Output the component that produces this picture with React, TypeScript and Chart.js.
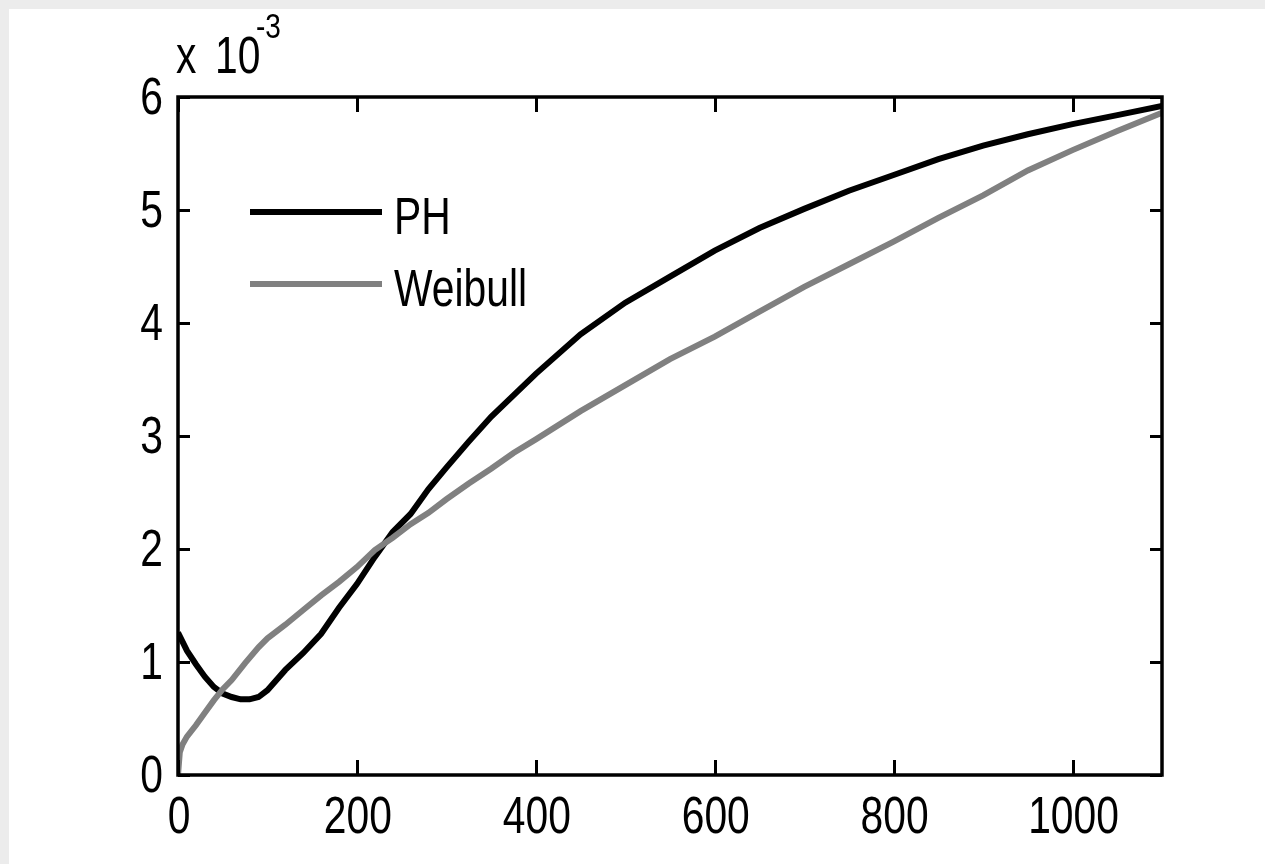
import React, { useEffect, useRef } from "react";
import { Chart, registerables } from "chart.js";

Chart.register(...registerables);

// x positions (hours) and values (in units of 1e-3)
const phX = [0, 5, 10, 20, 30, 40, 50, 60, 70, 80, 90, 100, 120, 140, 160, 180, 200, 220, 240, 260, 280, 300, 325, 350, 375, 400, 450, 500, 550, 600, 650, 700, 750, 800, 850, 900, 950, 1000, 1050, 1100];
const phY = [1.26, 1.18, 1.1, 0.98, 0.87, 0.78, 0.72, 0.69, 0.67, 0.67, 0.69, 0.75, 0.93, 1.08, 1.25, 1.48, 1.69, 1.93, 2.15, 2.31, 2.53, 2.72, 2.95, 3.17, 3.36, 3.55, 3.9, 4.18, 4.41, 4.64, 4.84, 5.01, 5.17, 5.31, 5.45, 5.57, 5.67, 5.76, 5.84, 5.92];

const wbX = [0, 2, 5, 10, 20, 30, 40, 50, 60, 75, 90, 100, 120, 140, 160, 180, 200, 220, 240, 260, 280, 300, 325, 350, 375, 400, 450, 500, 550, 600, 650, 700, 750, 800, 850, 900, 950, 1000, 1050, 1100];
const wbY = [0.0, 0.2, 0.27, 0.34, 0.44, 0.55, 0.66, 0.76, 0.84, 0.99, 1.13, 1.21, 1.33, 1.46, 1.59, 1.71, 1.84, 1.99, 2.1, 2.22, 2.32, 2.44, 2.58, 2.71, 2.85, 2.97, 3.22, 3.45, 3.68, 3.88, 4.1, 4.32, 4.52, 4.72, 4.93, 5.13, 5.35, 5.53, 5.7, 5.86];

const seriesNames = ["PH", "Weibull"];
const seriesColors = ["#000000", "#808080"];

const xTickValues = [0, 200, 400, 600, 800, 1000];
const yTickValues = [0, 1, 2, 3, 4, 5, 6];
const exponentPower = "-3";

const FONT = '"Liberation Sans", Arial, Helvetica, sans-serif';
const SQUEEZE = 0.8;

function squeezedText(ctx: CanvasRenderingContext2D, text: string, x: number, y: number, size: number, align: CanvasTextAlign) {
  ctx.save();
  ctx.translate(x, y);
  ctx.scale(SQUEEZE, 1);
  ctx.font = `${size}px ${FONT}`;
  ctx.textAlign = align;
  ctx.textBaseline = "alphabetic";
  ctx.fillStyle = "#000";
  ctx.fillText(text, 0, 0);
  ctx.restore();
}

const matlabAxes = {
  id: "matlabAxes",
  afterDatasetsDraw(chart: any) {
    const ctx: CanvasRenderingContext2D = chart.ctx;
    const { left, right, top, bottom } = chart.chartArea;
    const xs = chart.scales.x;
    const ys = chart.scales.y;
    ctx.save();
    ctx.strokeStyle = "#000";
    ctx.lineWidth = 3.5;
    ctx.lineCap = "butt";
    ctx.strokeRect(left, top, right - left, bottom - top);
    ctx.lineWidth = 3;
    ctx.beginPath();
    for (const v of xTickValues) {
      const px = Math.round(xs.getPixelForValue(v)) + 0.5;
      ctx.moveTo(px, bottom);
      ctx.lineTo(px, bottom - 15);
      ctx.moveTo(px, top);
      ctx.lineTo(px, top + 15);
    }
    for (const v of yTickValues) {
      const py = Math.round(ys.getPixelForValue(v)) + 0.5;
      ctx.moveTo(left, py);
      ctx.lineTo(left + 12, py);
      ctx.moveTo(right, py);
      ctx.lineTo(right - 12, py);
    }
    ctx.stroke();
    ctx.restore();

    for (const v of xTickValues) {
      squeezedText(ctx, String(v), xs.getPixelForValue(v) + 1, bottom + 58, 51, "center");
    }
    for (const v of yTickValues) {
      squeezedText(ctx, String(v), left - 15, ys.getPixelForValue(v) + 17, 51, "right");
    }
    squeezedText(ctx, "x", left - 2, top - 24, 51, "left");
    squeezedText(ctx, "10", left + 37, top - 24, 51, "left");
    squeezedText(ctx, exponentPower, left + 78, top - 59, 35, "left");

    const rows = [212, 284];
    seriesNames.forEach((name, i) => {
      ctx.save();
      ctx.strokeStyle = seriesColors[i];
      ctx.lineWidth = 6;
      ctx.beginPath();
      ctx.moveTo(250, rows[i]);
      ctx.lineTo(382, rows[i]);
      ctx.stroke();
      ctx.restore();
      squeezedText(ctx, name, 394, rows[i] + 22, 51, "left");
    });
  },
};

export default function App() {
  const ref = useRef<HTMLCanvasElement | null>(null);
  useEffect(() => {
    if (!ref.current) return;
    const chart = new Chart(ref.current, {
      type: "line",
      data: {
        datasets: [
          {
            label: seriesNames[0],
            data: phX.map((x, i) => ({ x, y: phY[i] })),
            borderColor: seriesColors[0],
            borderWidth: 6,
            pointRadius: 0,
            tension: 0,
            fill: false,
            order: 1,
          },
          {
            label: seriesNames[1],
            data: wbX.map((x, i) => ({ x, y: wbY[i] })),
            borderColor: seriesColors[1],
            borderWidth: 6,
            pointRadius: 0,
            tension: 0,
            fill: false,
            order: 0,
          },
        ] as any,
      },
      options: {
        responsive: false,
        animation: false,
        events: [],
        layout: { padding: { left: 178, top: 97, right: 103, bottom: 89 } },
        plugins: { legend: { display: false }, tooltip: { enabled: false } },
        scales: {
          x: { type: "linear", min: 0, max: 1100, display: false },
          y: { type: "linear", min: 0, max: 6, display: false },
        },
      },
      plugins: [matlabAxes],
    });
    return () => chart.destroy();
  }, []);

  return (
    <div style={{ position: "fixed", left: 0, top: 0, width: 1265, height: 864, background: "#fff", overflow: "hidden" }}>
      <div style={{ position: "absolute", left: 0, top: 0, width: 1265, height: 9, background: "#ececec" }} />
      <div style={{ position: "absolute", left: 0, top: 0, width: 9, height: 864, background: "#ececec" }} />
      <canvas ref={ref} width={1265} height={864} style={{ position: "absolute", left: 0, top: 0, width: 1265, height: 864 }} />
    </div>
  );
}
